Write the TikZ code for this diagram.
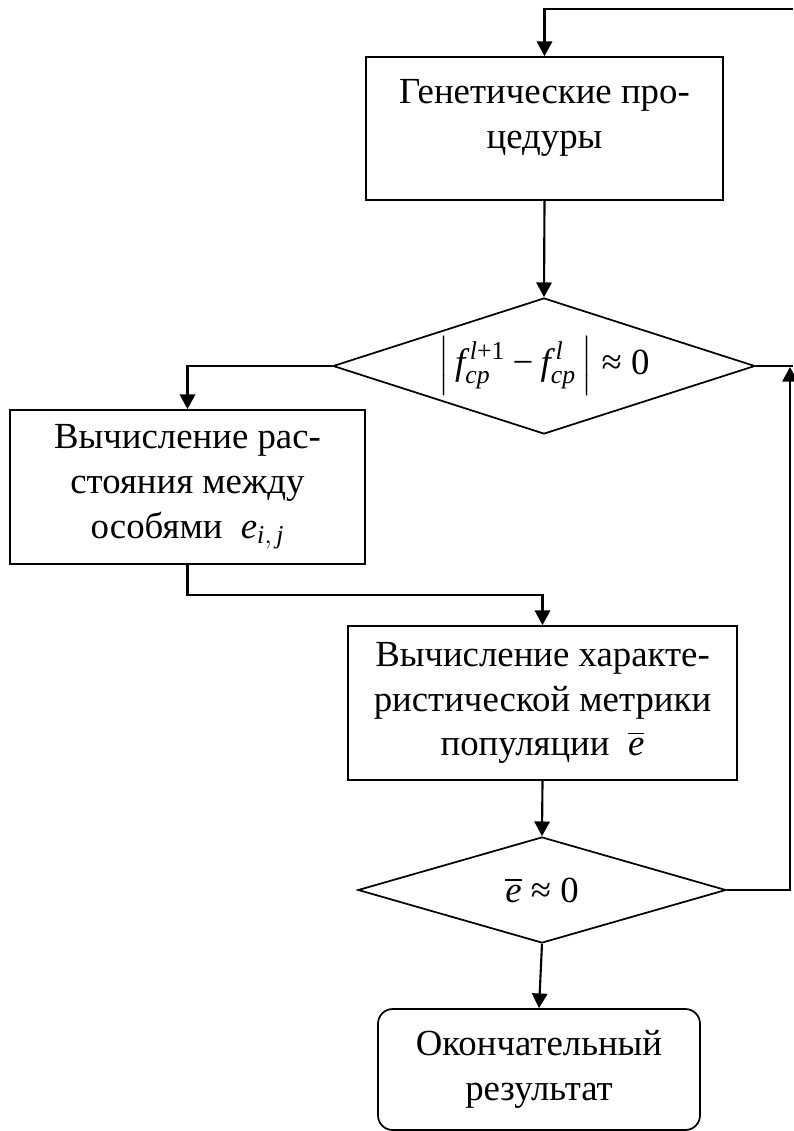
\documentclass[tikz,border=0pt]{standalone}
\usepackage{amsmath}
\usepackage[no-math]{fontspec}
\setmainfont{Liberation Serif}
\usetikzlibrary{arrows.meta,shapes.geometric}
\newcommand{\vi}[1]{\textit{#1}}
\newcommand{\apx}{\mathrel{\text{≈}}}
\newcommand{\mns}{\mathbin{\text{−}}}
\tikzset{
  txt/.style={font=\fontsize{27.6pt}{33.5pt}\selectfont, align=center, inner sep=0pt},
  blk/.style={draw, line width=1.3pt, rectangle, inner sep=0pt, txt},
  term/.style={blk, rounded corners=11pt},
  dec/.style={draw, line width=1.3pt, diamond, inner sep=0pt, shape aspect=3, txt},
  conn/.style={line width=1.6pt, -{Triangle[length=11pt,width=11.5pt]}},
  wire/.style={line width=1.6pt}
}
\begin{document}
\begin{tikzpicture}[x=0.75pt,y=-0.75pt]
\useasboundingbox (0,0) rectangle (793,1131);
% nodes
\node[blk, minimum width=267.75pt, minimum height=107.25pt] (gen) at (544.5,128.5) {};
\node[txt] (genlbl) at (544.5,118) {Генетические про-\\цедуры};
\node[dec, minimum width=316.5pt, minimum height=102pt] (d1) at (544,366)
  {$\left|\,\vi{f}^{\,\vi{l}\text{+1}}_{\vi{cp}}\mns\vi{f}^{\,\vi{l}}_{\vi{cp}}\,\right|\apx\text{0}$};
\node[blk, minimum width=266.25pt, minimum height=115.5pt] (dist) at (187.5,487)
  {Вычисление рас-\\стояния между\\особями $\;\vi{e}_{\vi{i},\,\vi{j}}$};
\node[blk, minimum width=291.75pt, minimum height=115.5pt] (metr) at (542.5,703)
  {Вычисление характе-\\ристической метрики\\популяции $\;\overline{\vi{e}}$};
\node[dec, minimum width=276pt, minimum height=79.5pt] (d2) at (542,890)
  {$\overline{\vi{e}}\apx\text{0}$};
\node[term, minimum width=241.5pt, minimum height=90.75pt] (res) at (539,1069.5)
  {Окончательный\\результат};
% free ends
\coordinate (topr) at (793,9);
\coordinate (midr) at (793,366);
\coordinate (ret) at (790,367);
% connectors
\draw[conn] (topr) -| (gen.north);
\draw[conn] (gen.south) -- (d1.north);
\draw[conn] (d1.west) -| (dist.north);
\draw[conn] (dist.south) -- ++(0,30) -| (metr.north);
\draw[conn] (metr.south) -- (d2.north);
\draw[conn] (d2.south) -- (res.north);
\draw[conn] (d2.east) -| (ret);
\draw[wire] (d1.east) -- (midr);
\end{tikzpicture}
\end{document}
